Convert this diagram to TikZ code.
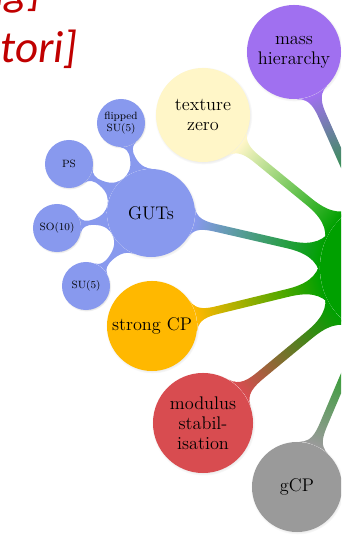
\documentclass[tikz,border=0pt]{standalone}
\usepackage{fontspec}
\newfontfamily\slidefont{Carlito}
\usetikzlibrary{mindmap,shadows}

\definecolor{rootgreen}{RGB}{0,160,0}
\definecolor{massviolet}{RGB}{160,112,240}
\definecolor{textureyellow}{RGB}{255,246,200}
\definecolor{gutblue}{RGB}{136,153,238}
\definecolor{cporange}{RGB}{255,184,0}
\definecolor{modred}{RGB}{216,76,80}
\definecolor{gcpgray}{RGB}{154,154,154}
\definecolor{citered}{RGB}{192,0,0}

\begin{document}
\begin{tikzpicture}[
        x=0.025cm, y=0.025cm,
        topic/.style={
            circle,
            inner sep=0pt,
            align=center,
            text=black,
            font=\fontsize{13}{14.2}\selectfont,
            circular drop shadow={shadow xshift=0.3pt, shadow yshift=-0.5pt,
                opacity=0.35, shadow scale=1.04}
        },
        subtopic/.style={
            topic,
            minimum size=1.2cm,
            fill=gutblue,
            font=\fontsize{7.5}{9}\selectfont
        },
        cite/.style={
            anchor=base east,
            inner sep=0pt,
            text=citered,
            font=\slidefont\itshape\fontsize{32}{38}\selectfont
        },
        link/.style args={#1 to #2}{
            circle connection bar switch color=from (#1) to (#2)
        }
    ]
    \useasboundingbox (0,0) rectangle (359,541);
    \clip (0,0) rectangle (341,541);

    % references left over from the slide
    \node[cite] (citeA) at (42,535) {ng]};
    \node[cite] (citeB) at (78,478) {tori]};

    % central concept, mostly off to the right
    \node[topic, fill=rootgreen, minimum size=3.5cm] (root) at (390,273) {};

    % first ring
    \node[topic, fill=massviolet,    minimum size=2.35cm] (mass)    at (294,489) {mass\\hierarchy};
    \node[topic, fill=textureyellow, minimum size=2.35cm] (texture) at (203,426) {texture\\zero};
    \node[topic, fill=gutblue,       minimum size=2.2cm]  (guts)    at (151,328) {GUTs};
    \node[topic, fill=cporange,      minimum size=2.25cm] (strong)  at (152,215) {strong CP};
    \node[topic, fill=modred,        minimum size=2.5cm]  (modulus) at (203,118) {modulus\\stabil-\\isation};
    \node[topic, fill=gcpgray,       minimum size=2.25cm] (gcp)     at (297,54)  {gCP};

    % unified groups
    \node[subtopic] (flipped) at (121,418) {flipped\\SU(5)};
    \node[subtopic] (ps)      at (69,377)  {PS};
    \node[subtopic] (so10)    at (57,313)  {SO(10)};
    \node[subtopic] (su5)     at (86,255)  {SU(5)};

    % connections
    \path (root) to[link=rootgreen to massviolet] (mass);
    \path (root) to[link=rootgreen to textureyellow] (texture);
    \path (root) to[link=rootgreen to gutblue] (guts);
    \path (root) to[link=rootgreen to cporange] (strong);
    \path (root) to[link=rootgreen to modred] (modulus);
    \path (root) to[link=rootgreen to gcpgray] (gcp);

    \path (guts) to[link=gutblue to gutblue] (flipped);
    \path (guts) to[link=gutblue to gutblue] (ps);
    \path (guts) to[link=gutblue to gutblue] (so10);
    \path (guts) to[link=gutblue to gutblue] (su5);
\end{tikzpicture}
\end{document}
